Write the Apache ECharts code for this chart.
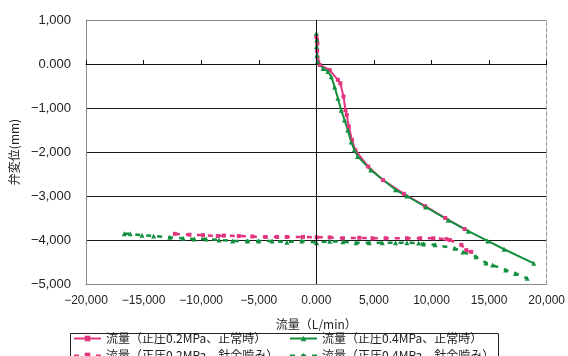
<!DOCTYPE html>
<html>
<head>
<meta charset="utf-8">
<script src="https://cdn.jsdelivr.net/npm/echarts@6/dist/echarts.min.js"></script>
<style>
  html, body { margin: 0; padding: 0; background: #fff; }
  #chart { width: 568px; height: 356px; }
</style>
</head>
<body>
<div id="chart"></div>
<script>
// Flow rate (L/min) vs valve displacement (mm)
const seriesNames = [
  '流量（正圧0.2MPa、正常時）',
  '流量（正圧0.4MPa、正常時）',
  '流量（正圧0.2MPa、針金噛み）',
  '流量（正圧0.4MPa、針金噛み）'
];

const xTickLabels = ['−20,000', '−15,000', '−10,000', '−5,000', '0.000', '5,000', '10,000', '15,000', '20,000'];
const yTickLabels = ['−5,000', '−4,000', '−3,000', '−2,000', '−1,000', '0.000', '1,000'];

// 0.2 MPa, normal
const flowA = [0, 60, 90, 70, 100, 160, 300, 1160, 1870, 2080, 2360, 2530, 2640, 2820, 3100, 3390, 4500, 5790, 7600, 9450, 11200, 12880];
const dispA = [0.62, 0.55, 0.47, 0.30, 0.15, 0.05, -0.02, -0.14, -0.36, -0.44, -0.74, -1.05, -1.16, -1.42, -1.73, -1.96, -2.33, -2.64, -2.95, -3.23, -3.50, -3.75];

// 0.4 MPa, normal
const flowB = [0, 40, 20, 60, 100, 585, 1010, 1300, 1590, 1870, 2160, 2445, 2730, 3020, 3300, 3585, 4730, 6880, 7850, 9500, 11450, 13200, 14880, 16310, 18880];
const dispB = [0.70, 0.55, 0.40, 0.20, 0.05, -0.10, -0.17, -0.29, -0.52, -0.78, -1.05, -1.27, -1.50, -1.77, -1.95, -2.10, -2.41, -2.86, -3.00, -3.25, -3.55, -3.80, -4.02, -4.21, -4.53];

// 0.2 MPa, wire caught in valve
const flowC = [-12280, -11020, -9840, -8560, -8020, -6730, -5560, -4420, -3410, -2560, -1160, 20, 1160, 2300, 3730, 4870, 6020, 7870, 9020, 10160, 11300, 11590, 12590, 13020, 13450];
const dispC = [-3.86, -3.88, -3.89, -3.91, -3.90, -3.91, -3.92, -3.93, -3.93, -3.93, -3.93, -3.94, -3.94, -3.96, -3.95, -3.96, -3.96, -3.96, -3.96, -3.96, -3.98, -4.00, -4.11, -4.23, -4.27];

// 0.4 MPa, wire caught in valve
const flowD = [-16680, -16160, -15140, -14130, -12730, -11560, -10590, -9560, -8450, -7270, -5990, -5020, -3840, -2560, -1270, 20, 1160, 2300, 3450, 4590, 5730, 6880, 7870, 8880, 9300, 10310, 12020, 12730, 13870, 14730, 15310, 16450, 17300, 18310];
const dispD = [-3.86, -3.86, -3.89, -3.91, -3.94, -3.96, -3.98, -3.98, -4.00, -4.02, -4.02, -4.02, -4.02, -4.05, -4.02, -4.06, -4.03, -4.04, -4.06, -4.06, -4.06, -4.06, -4.06, -4.07, -4.09, -4.11, -4.19, -4.27, -4.38, -4.52, -4.57, -4.68, -4.76, -4.87];

const PINK = '#e2357f';
const GREEN = '#13903f';
const TEXT = '#222';
const LABEL_FONT = '"Liberation Sans", "Noto Sans CJK JP", sans-serif';
const CJK_FONT = '"Noto Sans CJK JP", "Liberation Sans", sans-serif';

const zip = (xs, ys) => xs.map((x, i) => [x, ys[i]]);

const xMin = -20000, xMax = 20000, xStep = 5000;
const yMin = -5, yMax = 1, yStep = 1;

const chart = echarts.init(document.getElementById('chart'), null, { renderer: 'canvas' });

const legendBase = {
  orient: 'vertical', top: 332, padding: 0, itemGap: 4,
  width: 210, height: 60,
  itemWidth: 27, itemHeight: 7,
  textStyle: { fontFamily: CJK_FONT, fontSize: 12, color: TEXT, lineHeight: 13 }
};

chart.setOption({
  animation: false,
  backgroundColor: '#fff',
  grid: { left: 83, right: 19, top: 20, bottom: 72, containLabel: false },
  xAxis: [
    {
      type: 'value', min: xMin, max: xMax, interval: xStep,
      name: '流量（L/min）', nameLocation: 'middle', nameGap: 34,
      nameTextStyle: { fontFamily: CJK_FONT, fontSize: 12, color: TEXT },
      axisLine: { onZero: false, lineStyle: { color: '#8a8a8a', width: 1 } },
      axisTick: { show: false },
      axisLabel: {
        margin: 11, fontSize: 12, color: TEXT, fontFamily: LABEL_FONT,
        formatter: v => xTickLabels[Math.round((v - xMin) / xStep)]
      },
      splitLine: { show: false }
    },
    {
      // axis drawn through zero displacement
      type: 'value', min: xMin, max: xMax, interval: xStep, position: 'top',
      axisLine: { onZero: true, lineStyle: { color: '#111', width: 1 } },
      axisTick: { show: true, inside: false, length: 4, lineStyle: { color: '#111' } },
      axisLabel: { show: false },
      splitLine: { show: false }
    }
  ],
  yAxis: [
    {
      type: 'value', min: yMin, max: yMax, interval: yStep,
      name: '弁変位(mm)', nameLocation: 'middle', nameGap: 66, nameRotate: 90,
      nameTextStyle: { fontFamily: CJK_FONT, fontSize: 12, color: TEXT },
      axisLine: { onZero: false, show: true, lineStyle: { color: '#8a8a8a', width: 1 } },
      axisTick: { show: false },
      axisLabel: {
        margin: 15, fontSize: 13, color: TEXT, fontFamily: LABEL_FONT,
        formatter: v => yTickLabels[Math.round((v - yMin) / yStep)]
      },
      splitLine: {
        show: true,
        lineStyle: { color: ['#8a8a8a', '#1a1a1a', '#1a1a1a', '#1a1a1a', '#1a1a1a', '#1a1a1a', '#8a8a8a'], width: 1 }
      }
    },
    {
      type: 'value', min: yMin, max: yMax, interval: yStep, position: 'right',
      axisLine: { onZero: false, show: true, lineStyle: { color: '#999', width: 1, type: [4, 2] } },
      axisTick: { show: false },
      axisLabel: { show: false },
      splitLine: { show: false }
    }
  ],
  legend: [
    Object.assign({}, legendBase, { left: 73, data: [seriesNames[0], seriesNames[2]] }),
    Object.assign({}, legendBase, { left: 289, data: [seriesNames[1], seriesNames[3]] })
  ],
  graphic: [
    {
      type: 'rect', left: 68, top: 331, silent: true,
      shape: { width: 428, height: 40 },
      style: { fill: 'none', stroke: '#222', lineWidth: 1 }
    }
  ],
  series: [
    {
      name: seriesNames[2], type: 'line', data: zip(flowC, dispC),
      symbol: 'rect', symbolSize: 4, showAllSymbol: true,
      lineStyle: { color: PINK, width: 2.5, type: [5, 6] },
      itemStyle: { color: PINK }
    },
    {
      name: seriesNames[3], type: 'line', data: zip(flowD, dispD),
      symbol: 'triangle', symbolSize: 5, showAllSymbol: true,
      lineStyle: { color: GREEN, width: 2.5, type: [5, 6] },
      itemStyle: { color: GREEN }
    },
    {
      name: seriesNames[0], type: 'line', data: zip(flowA, dispA),
      symbol: 'rect', symbolSize: 4, showAllSymbol: true,
      lineStyle: { color: PINK, width: 2 },
      itemStyle: { color: PINK },
      markLine: {
        silent: true, symbol: 'none', label: { show: false },
        lineStyle: { color: '#111', width: 1, type: 'solid' },
        data: [{ xAxis: 0 }]
      }
    },
    {
      name: seriesNames[1], type: 'line', data: zip(flowB, dispB),
      symbol: 'triangle', symbolSize: 5, showAllSymbol: true,
      lineStyle: { color: GREEN, width: 2 },
      itemStyle: { color: GREEN }
    }
  ]
});
</script>
</body>
</html>
